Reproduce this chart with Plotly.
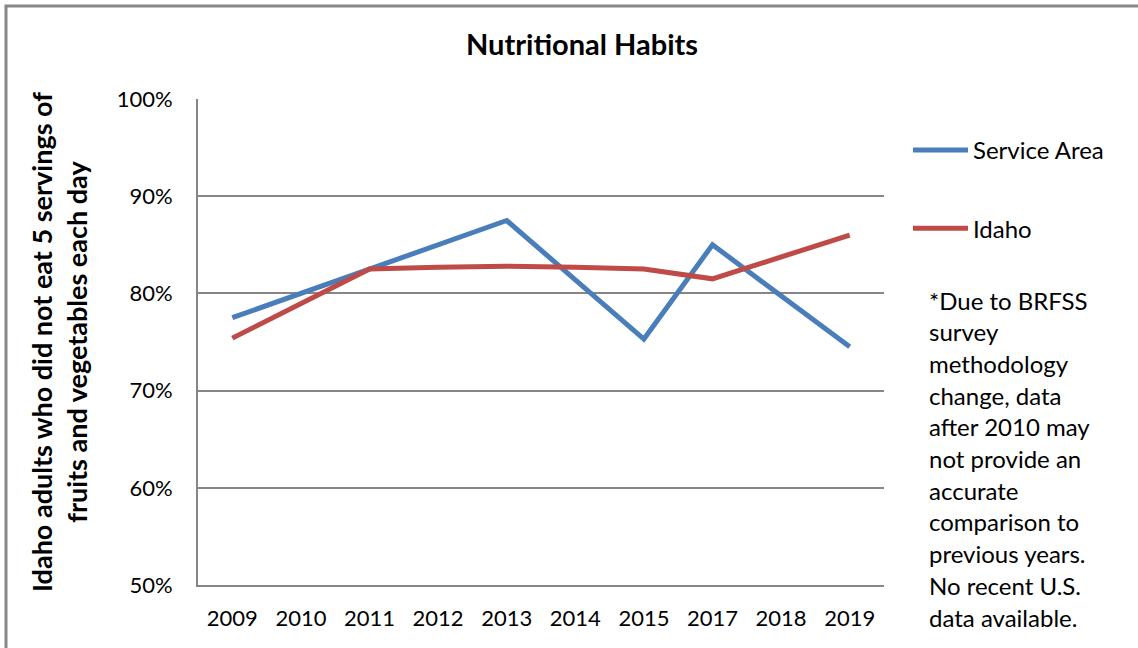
import plotly.graph_objects as go

years = ["2009", "2010", "2011", "2012", "2013", "2014", "2015", "2017", "2018", "2019"]
service_area = [77.5, 80.0, 82.5, 85.0, 87.5, 81.4, 75.3, 85.0, 79.7, 74.5]
idaho = [75.4, 79.0, 82.5, 82.7, 82.8, 82.7, 82.5, 81.5, 83.8, 86.0]
y_tick_values = [50, 60, 70, 80, 90, 100]
y_tick_labels = ["50%", "60%", "70%", "80%", "90%", "100%"]
note_lines = ["*Due to BRFSS", "survey", "methodology", "change, data", "after 2010 may",
              "not provide an", "accurate", "comparison to", "previous years.",
              "No recent U.S.", "data available."]

W, H = 1138, 648
L, R, T, B = 198, 884, 99, 585
FONT = "Lato"

def px_x(px):
    return (px - L) / (R - L)

def px_y(py):
    return (B - py) / (B - T)

fig = go.Figure()
fig.add_trace(go.Scatter(x=years, y=service_area, mode="lines", name="Service Area",
                         legendgroup="a", line=dict(color="#4A7EBB", width=5)))
fig.add_trace(go.Scatter(x=years, y=idaho, mode="lines", name="Idaho",
                         legendgroup="b", line=dict(color="#BE4B48", width=5)))

annotations = [
    dict(text="<b>Nutritional Habits</b>", xref="paper", yref="paper", x=px_x(582), y=px_y(43),
         xanchor="center", yanchor="middle", showarrow=False, font=dict(family=FONT, size=29, color="black")),
    dict(text="<b>Idaho adults who did not eat 5 servings of<br>fruits and vegetables each day</b>",
         xref="paper", yref="paper", x=px_x(59), y=px_y(342), xanchor="center", yanchor="middle",
         textangle=-90, showarrow=False, font=dict(family=FONT, size=27, color="black")),
]
for i, line in enumerate(note_lines):
    annotations.append(dict(text=line, xref="paper", yref="paper", x=px_x(927), y=px_y(300 + i * 31.7),
                            xanchor="left", yanchor="middle", showarrow=False,
                            font=dict(family=FONT, size=24, color="black")))

fig.update_layout(
    width=W, height=H,
    margin=dict(l=L, r=W - R, t=T, b=H - B, autoexpand=False),
    paper_bgcolor="white", plot_bgcolor="white",
    font=dict(family=FONT, size=22, color="black"),
    showlegend=True,
    legend=dict(x=px_x(908), y=px_y(128), xanchor="left", yanchor="top",
                tracegroupgap=44, font=dict(family=FONT, size=24, color="black"),
                bgcolor="rgba(0,0,0,0)", itemwidth=55),
    xaxis=dict(type="category", range=[-0.5, len(years) - 0.5], showgrid=False, showline=True,
               linecolor="#868686", linewidth=2, ticks="", ticklabelstandoff=13,
               tickfont=dict(family=FONT, size=22, color="black"), fixedrange=True),
    yaxis=dict(range=[50, 100], tickmode="array", tickvals=y_tick_values, ticktext=y_tick_labels,
               showgrid=True, gridcolor="#868686", gridwidth=1.5, showline=True, linecolor="#868686",
               linewidth=2, zeroline=False, ticks="", ticklabelstandoff=19,
               tickfont=dict(family=FONT, size=22, color="black"), fixedrange=True),
    annotations=annotations,
    shapes=[dict(type="rect", xref="paper", yref="paper", x0=px_x(6), y0=px_y(700), x1=px_x(1200),
                 y1=px_y(6), line=dict(color="#878787", width=3), fillcolor="rgba(0,0,0,0)", layer="below")],
)

fig.write_html("out.html", config={"displayModeBar": False},
               post_script="document.body.style.margin='0';")
